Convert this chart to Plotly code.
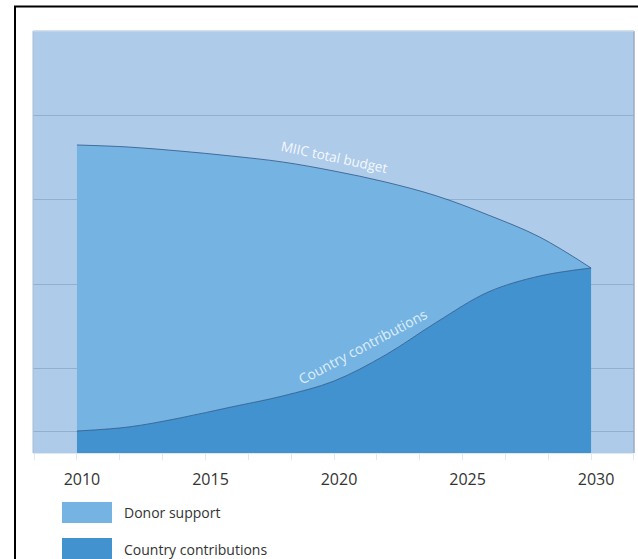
import plotly.graph_objects as go

years = [2010, 2012, 2014, 2016, 2018, 2020, 2022, 2024, 2026, 2028, 2030]
total_budget = [72.99, 72.51, 71.56, 70.38, 68.96, 66.82, 64.22, 60.90, 56.40, 51.18, 43.84]
country_contrib = [5.21, 6.16, 8.29, 10.90, 13.51, 17.06, 23.22, 31.04, 38.15, 41.94, 43.84]
tick_years = [2010, 2015, 2020, 2025, 2030]
grid_vals = [5.2, 20, 40, 60, 80]
legend_items = ["Donor support", "Country contributions"]

BG = "#AECBEA"
DONOR = "#75B4E2"
COUNTRY = "#4392D0"
EDGE = "rgba(40,80,130,0.75)"

W, H = 638, 559
ML, MR, MT, MB = 33, 4, 31, 106
PW, PH = W - ML - MR, H - MT - MB

def px(x):
    return (x - ML) / PW

def py(y):
    return (H - MB - y) / PH

fig = go.Figure()
fig.add_trace(go.Scatter(
    x=years, y=country_contrib, name=legend_items[1], mode="lines",
    line=dict(color=EDGE, width=1, shape="spline", smoothing=1.0),
    fill="tozeroy", fillcolor=COUNTRY, hoverinfo="x+y"))
fig.add_trace(go.Scatter(
    x=years, y=total_budget, name=legend_items[0], mode="lines",
    line=dict(color=EDGE, width=1, shape="spline", smoothing=1.0),
    fill="tonexty", fillcolor=DONOR, hoverinfo="x+y"))

fig.update_layout(
    width=W, height=H,
    margin=dict(l=ML, r=MR, t=MT, b=MB, pad=0),
    paper_bgcolor="white", plot_bgcolor=BG,
    showlegend=False,
    font=dict(family="Open Sans, Noto Sans, sans-serif", color="#333333"),
    xaxis=dict(range=[2008.29, 2031.67], tickvals=tick_years,
               ticktext=[str(t) for t in tick_years],
               tickfont=dict(size=16, color="#333333"),
               ticks="outside", ticklen=6, tickcolor="#dfe9f3",
               ticklabelshift=5, ticklabelstandoff=6,
               minor=dict(dtick=5/3, tick0=2010, ticks="outside", ticklen=6, tickcolor="#dfe9f3"),
               showgrid=False, zeroline=False,
               showline=True, linecolor="#dce8f4", linewidth=1, fixedrange=True),
    yaxis=dict(range=[0, 100], tickvals=grid_vals, showticklabels=False,
               showgrid=True, gridcolor="#93AFD0", gridwidth=1,
               zeroline=False, showline=False, fixedrange=True),
)

# plot edges (left/right/top subtle borders)
fig.add_shape(type="line", xref="paper", yref="paper", x0=1, x1=1, y0=0, y1=1,
              line=dict(color="#98ADC4", width=1.5))
fig.add_shape(type="line", xref="paper", yref="paper", x0=0, x1=0, y0=0, y1=1,
              line=dict(color="#A5BCD4", width=1))
fig.add_shape(type="line", xref="paper", yref="paper", x0=0, x1=1, y0=1, y1=1,
              line=dict(color="#C5D6E8", width=1.5))

# outer black frame
fig.add_shape(type="rect", xref="paper", yref="paper",
              x0=px(15), x1=px(650), y0=py(570), y1=py(6.5),
              line=dict(color="black", width=2), fillcolor="rgba(0,0,0,0)", layer="above")

# curve labels
fig.add_annotation(x=2020.0, y=70.1, xref="x", yref="y", text="MIIC total budget",
                   showarrow=False, textangle=12,
                   font=dict(size=13.5, color="rgba(255,255,255,0.9)", family="Open Sans, sans-serif"))
fig.add_annotation(x=2021.1, y=25.3, xref="x", yref="y", text="Country contributions",
                   showarrow=False, textangle=-28,
                   font=dict(size=14, color="rgba(235,245,255,0.9)", family="Open Sans, sans-serif"))

# legend swatches + labels
sw = [(502, 523, DONOR, 512.5), (538, 559, COUNTRY, 549)]
for (y0, y1, col, yc), label in zip(sw, legend_items):
    fig.add_shape(type="rect", xref="paper", yref="paper",
                  x0=px(62), x1=px(112), y0=py(y1), y1=py(y0),
                  line=dict(width=0), fillcolor=col)
    fig.add_annotation(x=px(122), y=py(yc), xref="paper", yref="paper",
                       text=label, showarrow=False, xanchor="left", yanchor="middle",
                       font=dict(size=14, color="#333333", family="Open Sans, sans-serif"))

fig.write_html("out.html")
